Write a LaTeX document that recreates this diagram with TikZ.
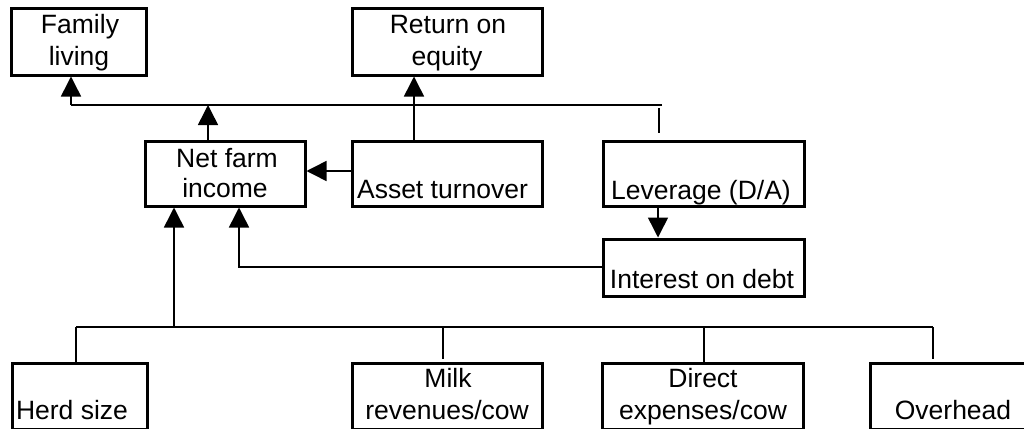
\documentclass[tikz,border=0pt]{standalone}
\usepackage{fontspec}
\setmainfont{Liberation Sans}
\usetikzlibrary{arrows.meta,calc}
\begin{document}
\begin{tikzpicture}[x=1pt,y=-1pt,
  box/.style={draw=black, line width=3pt, rectangle, inner sep=0pt},
  txt/.style={anchor=base, inner sep=0pt, font=\fontsize{26.5}{31}\selectfont},
  conn/.style={line width=1.5pt},
  arr/.style={conn, -{Triangle[length=20pt,width=20pt]}}]
\useasboundingbox (0,0) rectangle (1024,428);
\clip (0,0) rectangle (1024,428);
\fill[white] (0,0) rectangle (1024,428);
% boxes
\node[box, minimum width=135pt, minimum height=66pt] (fam) at (78.5,42) {};
\node[box, minimum width=190pt, minimum height=66pt] (roe) at (447,42) {};
\node[box, minimum width=160pt, minimum height=65pt] (nfi) at (225,173.5) {};
\node[box, minimum width=190pt, minimum height=65pt] (at) at (447,173.5) {};
\node[box, minimum width=201pt, minimum height=65pt] (lev) at (703.5,173.5) {};
\node[box, minimum width=201pt, minimum height=57pt] (int) at (703.5,267.5) {};
\node[box, minimum width=135pt, minimum height=66pt] (herd) at (79.5,396) {};
\node[box, minimum width=190pt, minimum height=66pt] (milk) at (447,396) {};
\node[box, minimum width=201pt, minimum height=66pt] (dir) at (702.5,396) {};
\node[box, minimum width=166pt, minimum height=66pt] (ovh) at (953,396) {};
% texts
\node[txt] (famA) at (80,34) {Family};
\node[txt] (famB) at (79,65) {living};
\node[txt] (roeA) at (448,34) {Return on};
\node[txt] (roeB) at (447,65) {equity};
\node[txt] (nfiA) at (227,167) {Net farm};
\node[txt] (nfiB) at (225,197) {income};
\node[txt] (atA) at (442.5,198) {Asset turnover};
\node[txt] (levA) at (701,199) {Leverage (D/A)};
\node[txt] (intA) at (702,288) {Interest on debt};
\node[txt] (herdA) at (72,419) {Herd size};
\node[txt] (milkA) at (448,387) {Milk};
\node[txt] (milkB) at (447,419) {revenues/cow};
\node[txt] (dirA) at (703,387) {Direct};
\node[txt] (dirB) at (703,419) {expenses/cow};
\node[txt] (ovhA) at (953,419) {Overhead};
% upper bus
\coordinate (b1) at (208,105);
\coordinate (bL) at (71,105);
\coordinate (bR) at (662,105);
\coordinate (t1) at (659,108);
\draw[arr] (nfi.north -| b1) -- (b1);
\draw[conn] (bR) -- (bL);
\draw[arr] (bL) -- (fam.south -| bL);
\draw[conn] (t1) -- ($(lev.north -| t1)+(0,-6.5)$);
% asset turnover
\coordinate (c2) at (414,0);
\coordinate (c3) at (0,171);
\draw[arr] (at.north -| c2) -- (roe.south -| c2);
\draw[arr] (at.west |- c3) -- (nfi.east |- c3);
% leverage -> interest -> nfi
\coordinate (c4) at (658,0);
\coordinate (c5) at (239,267);
\draw[arr] (lev.south -| c4) -- (int.north -| c4);
\draw[arr] (int.west |- c5) -- (c5) -- (nfi.south -| c5);
% lower bus
\coordinate (d1) at (76,327);
\coordinate (d2) at (174,327);
\coordinate (d3) at (443,327);
\coordinate (d4) at (704,327);
\coordinate (d5) at (933,327);
\draw[conn] (d1) -- (d5);
\draw[arr] (d2) -- (nfi.south -| d2);
\draw[conn] (d1) -- (herd.north -| d1);
\draw[conn] (d3) -- ($(milk.north -| d3)+(0,-3)$);
\draw[conn] (d4) -- (dir.north -| d4);
\draw[conn] (d5) -- ($(ovh.north -| d5)+(0,-3)$);
\end{tikzpicture}
\end{document}
